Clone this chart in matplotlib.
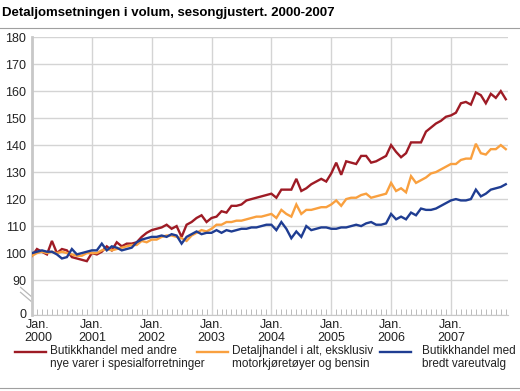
import matplotlib
matplotlib.use("Agg")
import matplotlib.pyplot as plt
import matplotlib.transforms as mtransforms
from matplotlib.lines import Line2D
import numpy as np

plt.rcParams['font.family'] = ['Liberation Sans', 'DejaVu Sans']

# monthly index values, Jan 2000 - Dec 2007
years = ['2000', '2001', '2002', '2003', '2004', '2005', '2006', '2007']

spesial = [99, 101.5, 100.5, 99.5, 104.5, 100, 101.5, 101, 98.5, 98, 97.5, 97,
           100, 99.5, 100.5, 102.5, 101, 104, 102.5, 103.5, 103.5, 104, 106, 107.5,
           108.5, 109, 109.5, 110.5, 109, 110, 106, 110.5, 111.5, 113, 114, 111.5,
           113, 113.5, 115.5, 115, 117.5, 117.5, 118, 119.5, 120, 120.5, 121, 121.5,
           122, 120.5, 123.5, 123.5, 123.5, 127.5, 123, 124, 125.5, 126.5, 127.5, 126.5,
           129.5, 133.5, 129, 134, 133.5, 133, 136, 136, 133.5, 134, 135, 136,
           140, 137.5, 135.5, 137, 141, 141, 141, 145, 146.5, 148, 149, 150.5,
           151, 152, 155.5, 156, 155, 159.5, 158.5, 155.5, 159, 157.5, 160, 157]

detalj = [99, 100, 100.5, 100, 100.5, 100, 100.5, 100, 99.5, 99, 99, 100,
          100, 100, 101, 101.5, 101, 101.5, 102, 102.5, 103, 103, 104.5, 104,
          105, 105, 106, 106.5, 106.5, 106, 105.5, 104.5, 106.5, 107.5, 108.5, 108,
          109, 110.5, 110.5, 111.5, 111.5, 112, 112, 112.5, 113, 113.5, 113.5, 114,
          114.5, 113, 116, 114.5, 113.5, 118, 114.5, 116, 116, 116.5, 117, 117,
          118, 119.5, 117.5, 120, 120.5, 120.5, 121.5, 122, 120.5, 121, 121.5, 122,
          126, 123, 124, 122.5, 128.5, 126, 127, 128, 129.5, 130, 131, 132,
          133, 133, 134.5, 135, 135, 140.5, 137, 136.5, 138.5, 138.5, 140, 138.5]

bredt = [100, 100.5, 101, 100.5, 100.5, 99.5, 98, 98.5, 101.5, 99.5, 100, 100.5,
         101, 101, 103.5, 101, 102.5, 102, 101, 101.5, 102, 104, 105, 105.5,
         106, 106, 106.5, 106, 107, 106.5, 103.5, 106, 107, 108, 107, 107.5,
         107.5, 108.5, 107.5, 108.5, 108, 108.5, 109, 109, 109.5, 109.5, 110, 110.5,
         110.5, 108.5, 111.5, 109, 105.5, 108, 106, 110, 108.5, 109, 109.5, 109.5,
         109, 109, 109.5, 109.5, 110, 110.5, 110, 111, 111.5, 110.5, 110.5, 111,
         114.5, 112.5, 113.5, 112.5, 115, 114, 116.5, 116, 116, 116.5, 117.5, 118.5,
         119.5, 120, 119.5, 119.5, 120, 123.5, 121, 122, 123.5, 124, 124.5, 125.5]

labels = ['Butikkhandel med andre\nnye varer i spesialforretninger',
          'Detaljhandel i alt, eksklusiv\nmotorkjøretøyer og bensin',
          'Butikkhandel med\nbredt vareutvalg']
colors = ['#9e1b25', '#f9a03f', '#1f3d92']

grid_c = '#d4d4d4'
x = np.arange(len(spesial))

fig = plt.figure(figsize=(5.2, 3.91), dpi=100)
ax = fig.add_axes([0.0615, 0.194, 0.915, 0.711])

for vals, c in zip([spesial, detalj, bredt], colors):
    ax.plot(x, vals, color=c, lw=1.7, solid_joinstyle='miter', zorder=3)

ax.set_xlim(0, 95.4)
ax.set_ylim(77, 180)
ax.set_yticks(list(range(90, 181, 10)) + [77])
ax.set_yticklabels([str(v) for v in range(90, 181, 10)] + ['0'])
ax.set_xticks(np.arange(0, 96, 12))
ax.set_xticklabels(['Jan.\n' + y for y in years])
ax.set_xticks(np.arange(0, 96), minor=True)

ax.grid(axis='y', color=grid_c, lw=1.0)
ax.grid(axis='x', which='major', color=grid_c, lw=1.0)
ax.set_axisbelow(True)

for s in ['top', 'right']:
    ax.spines[s].set_visible(False)
ax.spines['left'].set_color('#c8c8c8')
ax.spines['left'].set_linewidth(2.0)
ax.spines['bottom'].set_color('#c8c8c8')
ax.spines['bottom'].set_linewidth(0.8)

ax.tick_params(axis='y', length=0, labelsize=9, pad=4, colors='#222222')
ax.tick_params(axis='x', which='major', length=0, labelsize=9, pad=3, colors='#222222')
ax.tick_params(axis='x', which='minor', direction='in', length=4, width=0.6, color='#b0b0b0')
for t in ax.get_xticklabels():
    t.set_linespacing(1.1)

# first date label sits a bit right of the corner, clear of the "0"
first = ax.get_xticklabels()[0]
first.set_transform(first.get_transform() +
                    mtransforms.ScaledTranslation(0.06, 0, fig.dpi_scale_trans))
zero = ax.get_yticklabels()[-1]
zero.set_transform(zero.get_transform() +
                   mtransforms.ScaledTranslation(0, 0.02, fig.dpi_scale_trans))

# axis break marks
for dy in (0.0, 0.018):
    ax.plot([-0.024, -0.002], [0.10 - dy, 0.068 - dy], transform=ax.transAxes,
            color='#b8b8b8', lw=0.9, clip_on=False)

# title and rules
fig.text(0.004, 0.967, 'Detaljomsetningen i volum, sesongjustert. 2000-2007',
         fontsize=9.5, fontweight='bold', va='center', ha='left')
fig.add_artist(Line2D([0, 1], [1 - 28 / 391, 1 - 28 / 391], color='#a0a0a0', lw=0.8))
fig.add_artist(Line2D([0, 1], [3 / 391, 3 / 391], color='#a0a0a0', lw=0.8))

# legend
leg_x = [15, 197, 380]
txt_x = [50, 232, 422]
for lx, tx, lab, c in zip(leg_x, txt_x, labels, colors):
    yy = 1 - 352 / 391
    fig.add_artist(Line2D([lx / 520, (lx + 31) / 520], [yy, yy], color=c, lw=1.7))
    fig.text(tx / 520, 1 - 345 / 391, lab, fontsize=8.5, va='top', ha='left',
             linespacing=1.15, color='#222222')

fig.savefig('out.png', dpi=100)
